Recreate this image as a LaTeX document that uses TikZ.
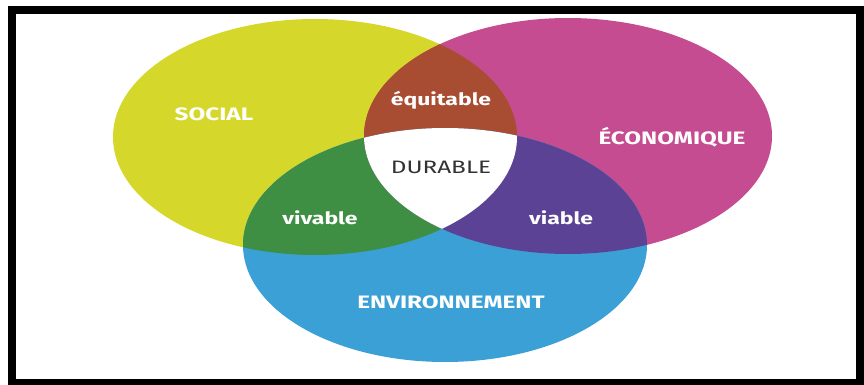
\documentclass[tikz,border=0pt]{standalone}
\usepackage{fontspec}
\setsansfont{Fira Sans}[FakeStretch=1.35]
\definecolor{socialcol}{HTML}{D6D72B}
\definecolor{ecocol}{HTML}{C54C91}
\definecolor{envcol}{HTML}{3AA0D6}
\definecolor{equitcol}{HTML}{A84C32}
\definecolor{vivcol}{HTML}{3E8F44}
\definecolor{viacol}{HTML}{5C4294}
\newcommand\socialset{(315,137) ellipse [x radius=202,y radius=118]}
\newcommand\ecoset{(568,136) ellipse [x radius=204,y radius=118]}
\newcommand\envset{(445,245) ellipse [x radius=202,y radius=117]}

\begin{document}
\begin{tikzpicture}[x=1pt,y=-1pt,
	every node/.style={font=\sffamily\fontsize{18}{20}\selectfont},
	pillar/.style={text=white,font=\sffamily\bfseries\fontsize{18}{20}\selectfont},
	link/.style={text=white,font=\sffamily\bfseries\fontsize{17}{20}\selectfont},
	frame/.style={draw=black,line width=8pt}]
	\useasboundingbox (0,0) rectangle (864,385);
	\fill[socialcol] \socialset;
	\fill[ecocol] \ecoset;
	\fill[envcol] \envset;
	\begin{scope}
		\clip \socialset;
		\fill[equitcol] \ecoset;
		\fill[vivcol] \envset;
	\end{scope}
	\begin{scope}
		\clip \ecoset;
		\fill[viacol] \envset;
		\clip \socialset;
		\fill[white] \envset;
	\end{scope}
	\node[pillar] (social) at (214,114) {SOCIAL};
	\node[pillar] (eco) at (672,137) {ÉCONOMIQUE};
	\node[pillar] (env) at (451,302) {ENVIRONNEMENT};
	\node[link] (equit) at (441,100) {équitable};
	\node[link] (vivable) at (320,218) {vivable};
	\node[link] (viable) at (561,218) {viable};
	\node[text=black!80] (durable) at (441,167) {DURABLE};
	\draw[frame] (12,10) rectangle (860,383);
\end{tikzpicture}
\end{document}
